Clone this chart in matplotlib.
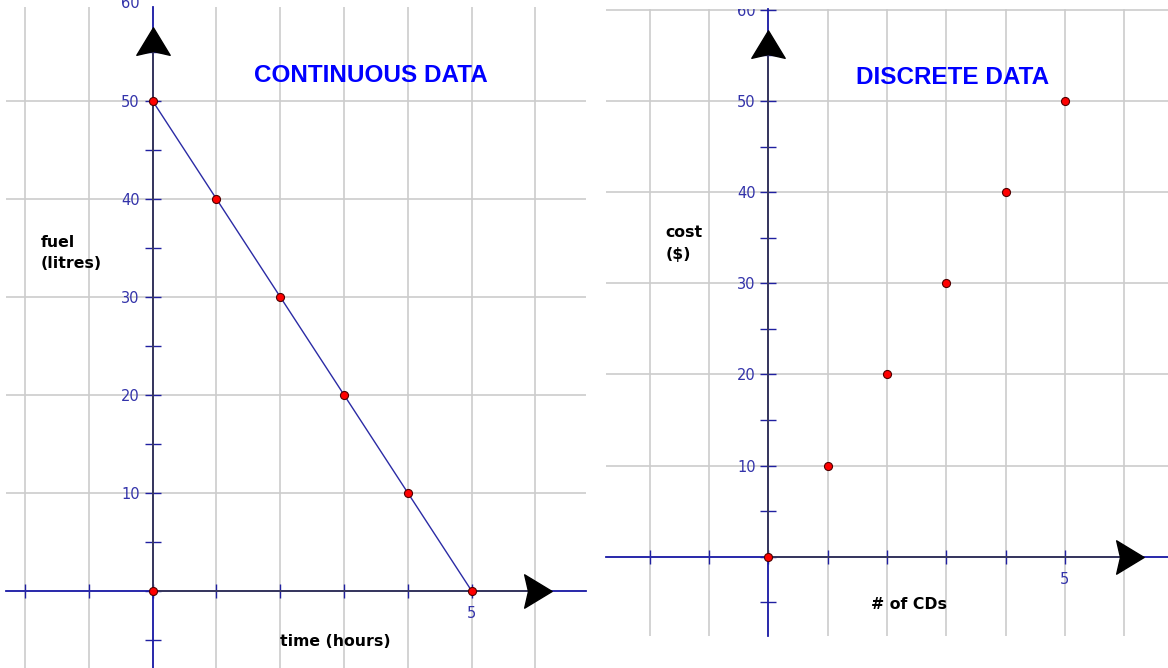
import matplotlib
matplotlib.use("Agg")
import matplotlib.pyplot as plt
from matplotlib.path import Path
from matplotlib.transforms import Bbox, TransformedBbox

# ---------------- data ----------------
time_hours = [0, 1, 2, 3, 4, 5]
fuel_litres = [50, 40, 30, 20, 10, 0]
origin_x = [0]
origin_y = [0]

num_cds = [0, 1, 2, 3, 4, 5]
cost_dollars = [0, 10, 20, 30, 40, 50]

x_ticks = [-2, -1, 0, 1, 2, 3, 4, 5, 6]
x_tick_labels = ["", "", "", "", "", "", "", "5", ""]
y_major = [0, 10, 20, 30, 40, 50, 60]
y_major_labels = ["", "10", "20", "30", "40", "50", "60"]
y_minor = [-5, 5, 15, 25, 35, 45, 55]

titles = ["CONTINUOUS DATA", "DISCRETE DATA"]
x_labels = ["time (hours)", "# of CDs"]
y_labels = ["fuel\n(litres)", "cost\n($)"]

# ---------------- styling ----------------
GRID = "#cccccc"
AXBLUE = "#1c1ca8"
AXDARK = "#3a3a58"
TICKC = "#2020a0"
LABC = "#3333aa"
TITLEC = "#0000ff"

# arrowhead markers (dart shape)
right_verts = [(1, 0), (-0.65, 1), (-0.42, 0), (-0.65, -1), (1, 0)]
up_verts = [(-y, x) for x, y in right_verts]
codes = [Path.MOVETO, Path.LINETO, Path.LINETO, Path.LINETO, Path.CLOSEPOLY]
ARROW_RIGHT = Path(right_verts, codes)
ARROW_UP = Path(up_verts, codes)

fig = plt.figure(figsize=(11.68, 6.68), dpi=100)
axL = fig.add_axes([6 / 1168, 0, 579.7 / 1168, 661 / 668])
axR = fig.add_axes([606 / 1168, 32 / 668, 562 / 1168, 627 / 668])


def style(ax, xlim, ylim, xarrow, yarrow, clip_top=None):
    for s in ["top", "right"]:
        ax.spines[s].set_visible(False)
    for s in ["left", "bottom"]:
        ax.spines[s].set_position(("data", 0))
        ax.spines[s].set_color(AXBLUE)
        ax.spines[s].set_linewidth(1.3)
    ax.set_xticks(x_ticks)
    ax.set_xticklabels(x_tick_labels)
    ax.set_yticks(y_major)
    ax.set_yticklabels(y_major_labels)
    ax.set_yticks(y_minor, minor=True)
    ax.set_xlim(xlim)
    ax.set_ylim(ylim)
    ax.tick_params(axis="y", which="both", direction="inout", length=11.5,
                   width=1, color=TICKC, labelcolor=LABC, labelsize=10.5, pad=3.5)
    ax.tick_params(axis="x", which="both", direction="inout", length=9.4,
                   width=1, color=TICKC, labelcolor=LABC, labelsize=10.5, pad=6.5)
    for lab in ax.get_xticklabels() + ax.get_yticklabels():
        lab.set_family("DejaVu Sans")
        if clip_top is not None:
            lab.set_clip_box(TransformedBbox(Bbox([[0, 0], [1, clip_top]]),
                                             fig.transFigure))
            lab.set_clip_on(True)
    ax.grid(True, which="major", color=GRID, lw=1.2)
    ax.set_axisbelow(True)
    # darker positive half-axes up to the arrowheads
    ax.plot([0, xarrow], [0, 0], color=AXDARK, lw=1.3, zorder=2.6)
    ax.plot([0, 0], [0, yarrow], color=AXDARK, lw=1.3, zorder=2.6)
    ax.plot([xarrow], [0], marker=ARROW_RIGHT, ms=24, color="black",
            ls="none", zorder=3, clip_on=False)
    ax.plot([0], [yarrow], marker=ARROW_UP, ms=24, color="black",
            ls="none", zorder=3, clip_on=False)


style(axL, (-2.30, 6.79), (-7.89, 59.6), 6.0, 55.8)
style(axR, (-2.74, 6.74), (-8.70, 60.1), 6.04, 55.9, clip_top=(668 - 9) / 668)

# the "60" of the left panel sits above its plotting area, cut by the figure edge
axL.annotate(y_major_labels[-1], xy=(0, y_major[-1]), xytext=(-9.3, 0),
             textcoords="offset points", ha="right", va="center",
             color=LABC, fontsize=10.5, family="DejaVu Sans",
             annotation_clip=False)

pt_kw = dict(marker="o", ms=5.8, mfc="#ff0000", mec="#500000", mew=0.8, zorder=5)

# left: continuous
axL.plot(time_hours, fuel_litres, color="#2b2ba5", lw=1.0, **pt_kw)
axL.plot(origin_x, origin_y, ls="none", **pt_kw)
# right: discrete
axR.plot(num_cds, cost_dollars, ls="none", **pt_kw)

title_kw = dict(color=TITLEC, fontsize=17.5, fontweight="bold",
                family="Liberation Sans", ha="center", va="center")
axL.text(3.42, 52.6, titles[0], **title_kw)
axR.text(3.10, 52.6, titles[1], **title_kw)

lab_kw = dict(color="black", fontsize=11.3, fontweight="bold", family="DejaVu Sans")
axL.text(2.86, -5.14, x_labels[0], ha="center", va="center", **lab_kw)
axR.text(2.37, -5.24, x_labels[1], ha="center", va="center", **lab_kw)
axL.text(-1.76, 34.5, y_labels[0], ha="left", va="center", linespacing=1.55, **lab_kw)
axR.text(-1.74, 34.4, y_labels[1], ha="left", va="center", linespacing=1.55, **lab_kw)

fig.savefig("out.png", dpi=100)
